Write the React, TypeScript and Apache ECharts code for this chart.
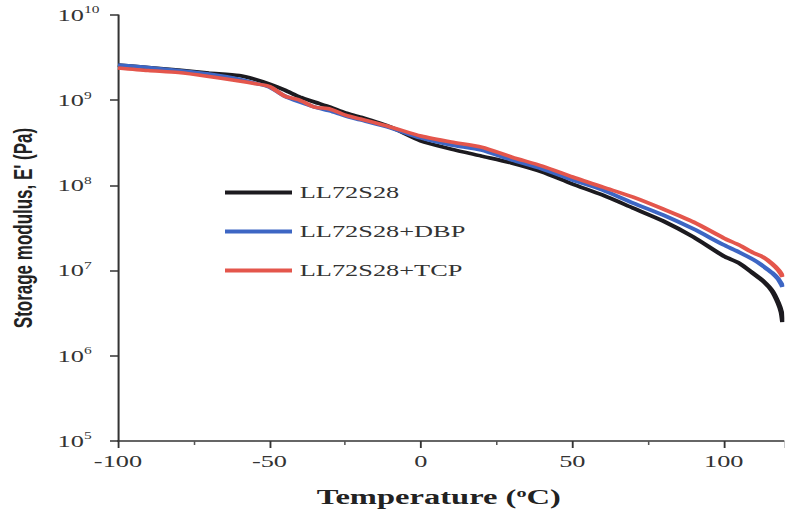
import React, { useEffect, useRef } from "react";
import * as echarts from "echarts";

const temps = [-100, -90, -80, -70, -60, -55, -50, -45, -40, -35, -30, -25, -20, -10, 0, 10, 20, 30, 40, 50, 60, 70, 80, 90, 100, 105, 110, 113, 116, 118, 119, 119.5];

const ll72s28 = [2.59e9, 2.42e9, 2.26e9, 2.09e9, 1.95e9, 1.77e9, 1.55e9, 1.32e9, 1.09e9, 9.5e8, 8.3e8, 7.1e8, 6.35e8, 4.84e8, 3.32e8, 2.67e8, 2.21e8, 1.83e8, 1.44e8, 1.04e8, 7.7e7, 5.43e7, 3.82e7, 2.48e7, 1.48e7, 1.23e7, 9.12e6, 7.55e6, 5.77e6, 4.17e6, 3.27e6, 2.49e6];

const ll72s28Dbp = [2.59e9, 2.42e9, 2.23e9, 2.03e9, 1.77e9, 1.59e9, 1.43e9, 1.12e9, 9.5e8, 8.3e8, 7.47e8, 6.53e8, 5.86e8, 4.72e8, 3.6e8, 2.98e8, 2.6e8, 1.99e8, 1.56e8, 1.16e8, 8.83e7, 6.21e7, 4.5e7, 3.08e7, 2.0e7, 1.65e7, 1.33e7, 1.13e7, 9.4e6, 7.97e6, 6.97e6, 6.43e6];

const ll72s28Tcp = [2.39e9, 2.23e9, 2.11e9, 1.9e9, 1.68e9, 1.57e9, 1.45e9, 1.12e9, 1.0e9, 8.3e8, 7.88e8, 6.7e8, 6.02e8, 4.84e8, 3.8e8, 3.23e8, 2.82e8, 2.15e8, 1.69e8, 1.26e8, 9.57e7, 7.31e7, 5.28e7, 3.72e7, 2.41e7, 2.0e7, 1.6e7, 1.44e7, 1.2e7, 1.02e7, 9.1e6, 8.41e6];

const seriesNames = ["LL72S28", "LL72S28+DBP", "LL72S28+TCP"];
const seriesColors = ["#1c1a1f", "#3d66c4", "#e4564c"];

const pair = (ys: number[]) => temps.map((t, i) => [t, ys[i]]);

// the reference picture is stretched horizontally; reproduce by scaling the whole chart in x
const SX = 1.55;
const W = 785;
const H = 512;

export default function App() {
  const ref = useRef<HTMLDivElement>(null);
  useEffect(() => {
    if (!ref.current) return;
    const chart = echarts.init(ref.current, null, { renderer: "svg" });
    const serif = "Liberation Serif";
    chart.setOption({
      animation: false,
      backgroundColor: "#ffffff",
      grid: {
        left: 118 / SX,
        right: 0,
        top: 15,
        bottom: 71,
        containLabel: false,
        outerBoundsMode: "none",
      },
      legend: {
        orient: "vertical",
        left: 225 / SX,
        top: 184,
        padding: 0,
        itemWidth: 67 / SX,
        itemHeight: 14,
        itemGap: 22,
        data: seriesNames.map((n, i) => ({
          name: n,
          icon: "path://M0,5L45,5L45,9L0,9Z",
          itemStyle: { color: seriesColors[i] },
        })),
        textStyle: { fontFamily: serif, fontSize: 17, color: "#333" },
      },
      xAxis: {
        type: "value",
        min: -100,
        max: 120,
        interval: 50,
        axisLine: { show: true, onZero: false, lineStyle: { color: "#333", width: 1.5 } },
        axisTick: { show: true, length: 7, lineStyle: { color: "#333", width: 1.2 } },
        minorTick: { show: true, splitNumber: 2, length: 4, lineStyle: { color: "#555", width: 1 } },
        splitLine: { show: false },
        axisLabel: {
          showMaxLabel: false,
          fontFamily: serif,
          fontSize: 17,
          color: "#333",
          margin: 12,
        },
        name: "{a|Temperature (}{s|o}{a|C)}",
        nameLocation: "middle",
        nameGap: 45,
        nameTextStyle: {
          padding: [0, 16, 0, 0],
          rich: {
            a: { fontFamily: serif, fontSize: 21, fontWeight: "bold", color: "#222" },
            s: { fontFamily: serif, fontSize: 13, fontWeight: "bold", color: "#222", padding: [0, 0, 10, 0] },
          },
        },
      },
      yAxis: {
        type: "log",
        logBase: 10,
        min: 1e5,
        max: 1e10,
        axisLine: { show: true, onZero: false, lineStyle: { color: "#333", width: 1.3 } },
        axisTick: { show: true, length: 8 / SX, lineStyle: { color: "#333", width: 1.5 } },
        splitLine: { show: false },
        axisLabel: {
          margin: 39,
          align: "left",
          formatter: (v: number) => `{b|10}{s|${Math.round(Math.log10(v))}}`,
          rich: {
            b: { fontFamily: serif, fontSize: 17, color: "#333" },
            s: { fontFamily: serif, fontSize: 10, color: "#333", padding: [0, 0, 10, 0] },
          },
        },
        name: "Storage modulus, E' (Pa)",
        nameLocation: "middle",
        nameGap: 53,
        nameTextStyle: {
          fontFamily: "Liberation Sans",
          fontSize: 17,
          fontWeight: "bold",
          color: "#222",
        },
      },
      series: [ll72s28, ll72s28Dbp, ll72s28Tcp].map((ys, i) => ({
        name: seriesNames[i],
        type: "line",
        data: pair(ys),
        showSymbol: false,
        symbol: "none",
        smooth: 0.25,
        lineStyle: { color: seriesColors[i], width: 3.5 },
        itemStyle: { color: seriesColors[i] },
        z: 3 + i,
      })),
    });
    return () => chart.dispose();
  }, []);
  return (
    <div style={{ position: "absolute", left: 0, top: 0, width: W, height: H, overflow: "hidden", background: "#fff" }}>
      <div
        ref={ref}
        style={{ width: W / SX, height: H, transform: `scaleX(${SX})`, transformOrigin: "0 0" }}
      />
    </div>
  );
}
